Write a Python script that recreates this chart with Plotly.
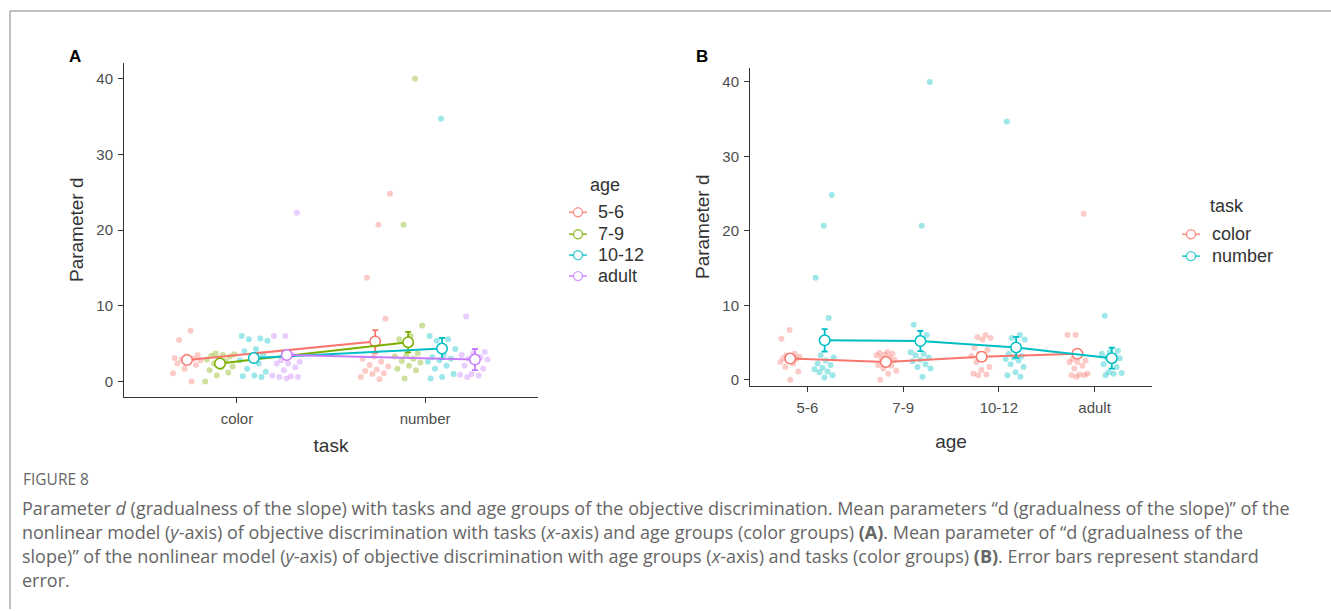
import plotly.graph_objects as go

# ---------------- data ----------------
ages = ["5-6", "7-9", "10-12", "adult"]
tasks = ["color", "number"]

color_5_6 = [6.7, 5.5, 3.5, 3.3, 3.1, 3.0, 2.9, 2.8, 2.6, 2.4, 2.2, 1.7, 1.1, 0.0]
color_7_9 = [3.7, 3.6, 3.5, 3.4, 3.3, 3.0, 2.9, 2.7, 2.4, 2.0, 1.9, 1.5, 1.2, 0.8, 0.0]
color_10_12 = [6.0, 5.7, 5.6, 5.4, 4.3, 4.0, 3.5, 3.2, 2.8, 2.4, 1.7, 1.3, 0.8, 0.7, 0.6]
color_adult = [22.3, 6.0, 6.0, 3.5, 2.8, 2.6, 2.4, 2.4, 1.9, 1.5, 0.8, 0.7, 0.6, 0.6, 0.4]
number_5_6 = [24.8, 20.7, 13.7, 8.3, 3.3, 3.0, 2.6, 2.2, 2.0, 1.6, 1.4, 1.1, 1.0, 0.6, 0.3]
number_7_9 = [40.0, 20.7, 7.4, 6.0, 5.6, 3.7, 3.5, 3.3, 3.0, 2.7, 2.5, 2.1, 1.7, 1.5, 0.4]
number_10_12 = [34.7, 6.0, 5.6, 5.4, 4.3, 3.5, 3.2, 3.0, 2.8, 2.6, 2.1, 1.7, 1.0, 0.6, 0.4]
number_adult = [8.6, 3.9, 3.7, 3.5, 3.2, 3.0, 2.9, 2.6, 2.1, 1.7, 1.0, 0.9, 0.8, 0.6]

mean_color = [2.85, 2.4, 3.1, 3.5]
se_color = [0.4, 0.35, 0.45, 0.5]
mean_number = [5.3, 5.2, 4.35, 2.9]
se_number = [1.5, 1.35, 1.4, 1.4]

y_ticks = [0, 10, 20, 30, 40]

raw = {
    ("color", "5-6"): color_5_6, ("color", "7-9"): color_7_9,
    ("color", "10-12"): color_10_12, ("color", "adult"): color_adult,
    ("number", "5-6"): number_5_6, ("number", "7-9"): number_7_9,
    ("number", "10-12"): number_10_12, ("number", "adult"): number_adult,
}
means = {"color": mean_color, "number": mean_number}
ses = {"color": se_color, "number": se_number}

age_cols = {"5-6": "#F8766D", "7-9": "#7CAE00", "10-12": "#00BFC4", "adult": "#C77CFF"}
task_cols = {"color": "#F8766D", "number": "#00BFC4"}


def rgba(hexc, a):
    h = hexc.lstrip("#")
    return "rgba(%d,%d,%d,%.2f)" % (int(h[0:2], 16), int(h[2:4], 16), int(h[4:6], 16), a)


def jitter(n, seed, half):
    # deterministic, evenly spread horizontal jitter (golden-ratio sequence)
    return [(((i + 1) * 0.618034 + seed * 0.37) % 1.0 - 0.5) * 2 * half for i in range(n)]


fig = go.Figure()

# ---------------- Panel A: x = task, colour = age ----------------
dodgeA = [-0.265, -0.09, 0.09, 0.265]
for ai, age in enumerate(ages):
    for ti, task in enumerate(tasks):
        vals = raw[(task, age)]
        cx = ti + 1 + dodgeA[ai]
        js = jitter(len(vals), ai * 2 + ti, 0.08)
        fig.add_trace(go.Scatter(
            x=[cx + j for j in js], y=vals, mode="markers",
            marker=dict(color=rgba(age_cols[age], 0.38), size=6, line=dict(width=0)),
            showlegend=False, hoverinfo="skip", xaxis="x", yaxis="y"))
for ai, age in enumerate(ages):
    fig.add_trace(go.Scatter(
        x=[ti + 1 + dodgeA[ai] for ti in range(2)],
        y=[means[t][ai] for t in tasks],
        error_y=dict(type="data", array=[ses[t][ai] for t in tasks], color=age_cols[age],
                     thickness=1.8, width=3),
        mode="lines+markers", name=age, showlegend=False,
        line=dict(color=age_cols[age], width=2),
        marker=dict(color="white", size=10.5, line=dict(color=age_cols[age], width=1.5)),
        xaxis="x", yaxis="y"))

# ---------------- Panel B: x = age, colour = task ----------------
dodgeB = [-0.18, 0.18]
for ti, task in enumerate(tasks):
    for ai, age in enumerate(ages):
        vals = raw[(task, age)]
        cx = ai + 1 + dodgeB[ti]
        js = jitter(len(vals), ai * 3 + ti + 5, 0.11)
        fig.add_trace(go.Scatter(
            x=[cx + j for j in js], y=vals, mode="markers",
            marker=dict(color=rgba(task_cols[task], 0.38), size=6, line=dict(width=0)),
            showlegend=False, hoverinfo="skip", xaxis="x2", yaxis="y2"))
for ti, task in enumerate(tasks):
    fig.add_trace(go.Scatter(
        x=[ai + 1 + dodgeB[ti] for ai in range(4)],
        y=means[task],
        error_y=dict(type="data", array=ses[task], color=task_cols[task], thickness=1.8, width=3),
        mode="lines+markers", name=task, showlegend=False,
        line=dict(color=task_cols[task], width=2),
        marker=dict(color="white", size=10.5, line=dict(color=task_cols[task], width=1.5)),
        xaxis="x2", yaxis="y2"))

W, H = 1331, 611
FAM = "Liberation Sans, Arial, sans-serif"
axfont = dict(family=FAM, size=15, color="#4d4d4d")
titlefont = dict(family=FAM, size=19, color="#333")

common_x = dict(showline=True, linecolor="#333", linewidth=1, ticks="outside", ticklen=5,
                tickcolor="#333", showgrid=False, zeroline=False, tickfont=axfont,
                ticklabelstandoff=3)
common_y = dict(showline=True, linecolor="#333", linewidth=1, ticks="outside", ticklen=5,
                tickcolor="#333", showgrid=False, zeroline=False, tickfont=axfont,
                tickvals=y_ticks, ticklabelstandoff=2)

fig.update_layout(
    width=W, height=H, margin=dict(l=0, r=0, t=0, b=0),
    paper_bgcolor="white", plot_bgcolor="white", showlegend=False,
    font=dict(family=FAM),
    xaxis=dict(domain=[124 / W, 538 / W], range=[0.4, 2.6], tickvals=[1, 2], ticktext=tasks,
               title=dict(text="task", font=titlefont, standoff=13), anchor="y", **common_x),
    yaxis=dict(domain=[1 - 398 / H, 1 - 63 / H], range=[-2, 42.1],
               title=dict(text="Parameter d", font=titlefont, standoff=7), anchor="x", **common_y),
    xaxis2=dict(domain=[750 / W, 1152 / W], range=[0.4, 4.6], tickvals=[1, 2, 3, 4], ticktext=ages,
                title=dict(text="age", font=titlefont, standoff=19), anchor="y2", **common_x),
    yaxis2=dict(domain=[1 - 387 / H, 1 - 68 / H], range=[-0.8, 41.9],
                title=dict(text="Parameter d", font=titlefont, standoff=7), anchor="x2", **common_y),
)

# ---------------- legends (ggplot-style keys) ----------------
legfont = dict(family=FAM, size=18, color="#333")


def draw_legend(title, title_x, title_y, labels, cols, key_x0, text_x, ys):
    fig.add_annotation(x=title_x / W, y=1 - title_y / H, xref="paper", yref="paper", text=title,
                       showarrow=False, xanchor="left", yanchor="middle", font=legfont)
    for lab, yy in zip(labels, ys):
        c = cols[lab]
        yp = 1 - yy / H
        fig.add_shape(type="line", xref="paper", yref="paper", x0=key_x0 / W, x1=(key_x0 + 18) / W,
                      y0=yp, y1=yp, line=dict(color=rgba(c, 0.75), width=1.8))
        cx = key_x0 + 9
        fig.add_shape(type="circle", xref="paper", yref="paper",
                      x0=(cx - 4.5) / W, x1=(cx + 4.5) / W, y0=yp - 4.5 / H, y1=yp + 4.5 / H,
                      fillcolor="white", line=dict(color=rgba(c, 0.75), width=1.4))
        fig.add_annotation(x=text_x / W, y=yp, xref="paper", yref="paper", text=lab,
                           showarrow=False, xanchor="left", yanchor="middle", font=legfont)


draw_legend("age", 588, 186, ages, age_cols, 569, 596, [213, 235, 256, 277])
draw_legend("task", 1208, 207, tasks, task_cols, 1182, 1210, [235, 257])

# panel letters
for txt, px in [("A", 67), ("B", 694)]:
    fig.add_annotation(x=px / W, y=1 - 57 / H, xref="paper", yref="paper", text="<b>%s</b>" % txt,
                       showarrow=False, xanchor="left", yanchor="middle",
                       font=dict(family=FAM, size=17, color="black"))

# frame lines
fig.add_shape(type="line", xref="paper", yref="paper", x0=10 / W, x1=1, y0=1 - 11 / H, y1=1 - 11 / H,
              line=dict(color="#aaaaaa", width=1.5))
fig.add_shape(type="line", xref="paper", yref="paper", x0=10 / W, x1=10 / W, y0=0, y1=1 - 11 / H,
              line=dict(color="#aaaaaa", width=1.5))

# caption
capfont = dict(family="Open Sans, Lato, sans-serif", size=18, color="#666")
fig.add_annotation(x=21 / W, y=1 - 481 / H, xref="paper", yref="paper", text="FIGURE 8",
                   showarrow=False, xanchor="left", yanchor="middle",
                   font=dict(family="Open Sans, Lato, sans-serif", size=15.5, color="#666"))
caption_lines = [
    "Parameter <i>d</i> (gradualness of the slope) with tasks and age groups of the objective discrimination. "
    "Mean parameters \u201cd (gradualness of the slope)\u201d of the",
    "nonlinear model (<i>y</i>-axis) of objective discrimination with tasks (<i>x</i>-axis) and age groups "
    "(color groups) <b>(A)</b>. Mean parameter of \u201cd (gradualness of the",
    "slope)\u201d of the nonlinear model (<i>y</i>-axis) of objective discrimination with age groups "
    "(<i>x</i>-axis) and tasks (color groups) <b>(B)</b>. Error bars represent standard",
    "error.",
]
for k, line in enumerate(caption_lines):
    fig.add_annotation(x=20 / W, y=1 - (510 + 24 * k) / H, xref="paper", yref="paper", text=line,
                       showarrow=False, xanchor="left", yanchor="middle", align="left",
                       font=capfont)

fig.write_html("out.html")
